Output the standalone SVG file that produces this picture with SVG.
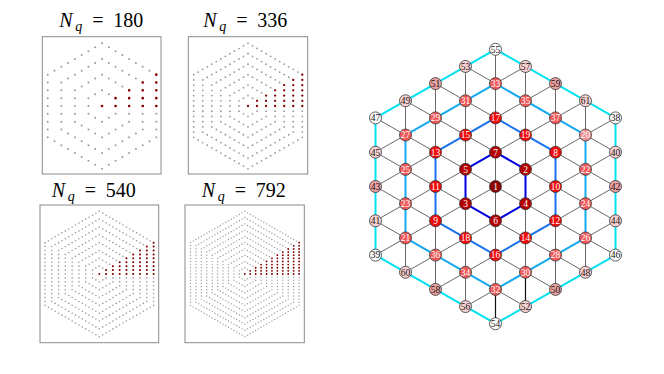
<svg xmlns="http://www.w3.org/2000/svg" width="664" height="374" viewBox="0 0 664 374">
<style>
.box{fill:#fff;stroke:#8a8a8a;stroke-width:1}
.ttl{font-family:"Liberation Serif",serif;font-size:20px;fill:#000}
.it{font-style:italic}
.g1{fill:none;stroke:#9a9a9a;stroke-linecap:round;stroke-width:2;stroke-dasharray:0 7.8375}
.g2{fill:none;stroke:#9a9a9a;stroke-linecap:round;stroke-width:1.8;stroke-dasharray:0 5.225}
.g3{fill:none;stroke:#9a9a9a;stroke-linecap:round;stroke-width:1.6;stroke-dasharray:0 3.91875}
.g4{fill:none;stroke:#9a9a9a;stroke-linecap:round;stroke-width:1.4;stroke-dasharray:0 3.135}
.r1{fill:none;stroke:#8b0000;stroke-linecap:round;stroke-width:2.6;stroke-dasharray:0 7.8375}
.r2{fill:none;stroke:#8b0000;stroke-linecap:round;stroke-width:2.3;stroke-dasharray:0 5.225}
.r3{fill:none;stroke:#8b0000;stroke-linecap:round;stroke-width:2.0;stroke-dasharray:0 3.91875}
.r4{fill:none;stroke:#8b0000;stroke-linecap:round;stroke-width:1.8;stroke-dasharray:0 3.135}
.lat{fill:none;stroke:#6a6a6a;stroke-width:1}
.blk{fill:none;stroke:#111;stroke-width:1.2}
.ring{fill:none;stroke-width:2;stroke-linejoin:round}
.node circle{stroke:#333;stroke-width:0.8}
.node text{font-family:"Liberation Serif",serif;font-size:9.5px;text-anchor:middle}
.c0 circle{fill:#8b0000}.c1 circle{fill:#b40000}.c2 circle{fill:#f00a0a}.c3 circle{fill:#f05858}.c3l circle{fill:#f29090}
.c4w circle{fill:#fff}.c4p circle{fill:#f8d2d2}.c4k circle{fill:#eca2a2}
.c0 text,.c1 text,.c2 text,.c3 text,.c3l text{fill:#fff}
.c4w text,.c4p text,.c4k text{fill:#111}
</style>

<g id="panel-180">
<rect class="box" x="42.3" y="36.7" width="118.7" height="137.3"/>
<text class="ttl" y="26.7"><tspan class="it" x="59.3">N</tspan><tspan class="it" x="75.3" dy="4" font-size="14">q</tspan><tspan x="92.3" dy="-4">=</tspan><tspan x="113.3">180</tspan></text>
<path class="g1" d="M102,90.325 l13.575,7.8375 v15.675 l-13.575,7.8375 l-13.575,-7.8375 v-15.675 z"/>
<path class="g1" d="M102,74.65 l27.15,15.675 v31.35 l-27.15,15.675 l-27.15,-15.675 v-31.35 z"/>
<path class="g1" d="M102,58.975 l40.725,23.5125 v47.025 l-40.725,23.5125 l-40.725,-23.5125 v-47.025 z"/>
<path class="g1" d="M102,43.3 l54.3,31.35 v62.7 l-54.3,31.35 l-54.3,-31.35 v-62.7 z"/>
<path class="r1" d="M102,106 v-0.3"/>
<path class="r1" d="M115.575,106 v-8.1375"/>
<path class="r1" d="M129.15,106 v-15.975"/>
<path class="r1" d="M142.725,106 v-23.8125"/>
<path class="r1" d="M156.3,106 v-31.65"/>
</g>

<g id="panel-336">
<rect class="box" x="188.3" y="36.7" width="119.4" height="137.3"/>
<text class="ttl" y="26.7"><tspan class="it" x="203.3">N</tspan><tspan class="it" x="219.3" dy="4" font-size="14">q</tspan><tspan x="236.3" dy="-4">=</tspan><tspan x="257.3">336</tspan></text>
<path class="g2" d="M248,95.55 l9.05,5.225 v10.45 l-9.05,5.225 l-9.05,-5.225 v-10.45 z"/>
<path class="g2" d="M248,85.1 l18.1,10.45 v20.9 l-18.1,10.45 l-18.1,-10.45 v-20.9 z"/>
<path class="g2" d="M248,74.65 l27.15,15.675 v31.35 l-27.15,15.675 l-27.15,-15.675 v-31.35 z"/>
<path class="g2" d="M248,64.2 l36.2,20.9 v41.8 l-36.2,20.9 l-36.2,-20.9 v-41.8 z"/>
<path class="g2" d="M248,53.75 l45.25,26.125 v52.25 l-45.25,26.125 l-45.25,-26.125 v-52.25 z"/>
<path class="g2" d="M248,43.3 l54.3,31.35 v62.7 l-54.3,31.35 l-54.3,-31.35 v-62.7 z"/>
<path class="r2" d="M248,106 v-0.3"/>
<path class="r2" d="M257.05,106 v-5.525"/>
<path class="r2" d="M266.1,106 v-10.75"/>
<path class="r2" d="M275.15,106 v-15.975"/>
<path class="r2" d="M284.2,106 v-21.2"/>
<path class="r2" d="M293.25,106 v-26.425"/>
<path class="r2" d="M302.3,106 v-31.65"/>
</g>

<g id="panel-540">
<rect class="box" x="40" y="205" width="118.7" height="137.7"/>
<text class="ttl" y="196.7"><tspan class="it" x="51.7">N</tspan><tspan class="it" x="67.7" dy="4" font-size="14">q</tspan><tspan x="84.7" dy="-4">=</tspan><tspan x="105.7">540</tspan></text>
<path class="g3" d="M99.3,266.1625 l6.7875,3.91875 v7.8375 l-6.7875,3.91875 l-6.7875,-3.91875 v-7.8375 z"/>
<path class="g3" d="M99.3,258.325 l13.575,7.8375 v15.675 l-13.575,7.8375 l-13.575,-7.8375 v-15.675 z"/>
<path class="g3" d="M99.3,250.4875 l20.3625,11.75625 v23.5125 l-20.3625,11.75625 l-20.3625,-11.75625 v-23.5125 z"/>
<path class="g3" d="M99.3,242.65 l27.15,15.675 v31.35 l-27.15,15.675 l-27.15,-15.675 v-31.35 z"/>
<path class="g3" d="M99.3,234.8125 l33.9375,19.59375 v39.1875 l-33.9375,19.59375 l-33.9375,-19.59375 v-39.1875 z"/>
<path class="g3" d="M99.3,226.975 l40.725,23.5125 v47.025 l-40.725,23.5125 l-40.725,-23.5125 v-47.025 z"/>
<path class="g3" d="M99.3,219.1375 l47.5125,27.43125 v54.8625 l-47.5125,27.43125 l-47.5125,-27.43125 v-54.8625 z"/>
<path class="g3" d="M99.3,211.3 l54.3,31.35 v62.7 l-54.3,31.35 l-54.3,-31.35 v-62.7 z"/>
<path class="r3" d="M99.3,274 v-0.3"/>
<path class="r3" d="M106.0875,274 v-4.21875"/>
<path class="r3" d="M112.875,274 v-8.1375"/>
<path class="r3" d="M119.6625,274 v-12.05625"/>
<path class="r3" d="M126.45,274 v-15.975"/>
<path class="r3" d="M133.2375,274 v-19.89375"/>
<path class="r3" d="M140.025,274 v-23.8125"/>
<path class="r3" d="M146.8125,274 v-27.73125"/>
<path class="r3" d="M153.6,274 v-31.65"/>
</g>

<g id="panel-792">
<rect class="box" x="185" y="205" width="119.3" height="137.7"/>
<text class="ttl" y="196.7"><tspan class="it" x="201.7">N</tspan><tspan class="it" x="217.7" dy="4" font-size="14">q</tspan><tspan x="234.7" dy="-4">=</tspan><tspan x="255.7">792</tspan></text>
<path class="g4" d="M244.8,267.73 l5.43,3.135 v6.27 l-5.43,3.135 l-5.43,-3.135 v-6.27 z"/>
<path class="g4" d="M244.8,261.46 l10.86,6.27 v12.54 l-10.86,6.27 l-10.86,-6.27 v-12.54 z"/>
<path class="g4" d="M244.8,255.19 l16.29,9.405 v18.81 l-16.29,9.405 l-16.29,-9.405 v-18.81 z"/>
<path class="g4" d="M244.8,248.92 l21.72,12.54 v25.08 l-21.72,12.54 l-21.72,-12.54 v-25.08 z"/>
<path class="g4" d="M244.8,242.65 l27.15,15.675 v31.35 l-27.15,15.675 l-27.15,-15.675 v-31.35 z"/>
<path class="g4" d="M244.8,236.38 l32.58,18.81 v37.62 l-32.58,18.81 l-32.58,-18.81 v-37.62 z"/>
<path class="g4" d="M244.8,230.11 l38.01,21.945 v43.89 l-38.01,21.945 l-38.01,-21.945 v-43.89 z"/>
<path class="g4" d="M244.8,223.84 l43.44,25.08 v50.16 l-43.44,25.08 l-43.44,-25.08 v-50.16 z"/>
<path class="g4" d="M244.8,217.57 l48.87,28.215 v56.43 l-48.87,28.215 l-48.87,-28.215 v-56.43 z"/>
<path class="g4" d="M244.8,211.3 l54.3,31.35 v62.7 l-54.3,31.35 l-54.3,-31.35 v-62.7 z"/>
<path class="r4" d="M244.8,274 v-0.3"/>
<path class="r4" d="M250.23,274 v-3.435"/>
<path class="r4" d="M255.66,274 v-6.57"/>
<path class="r4" d="M261.09,274 v-9.705"/>
<path class="r4" d="M266.52,274 v-12.84"/>
<path class="r4" d="M271.95,274 v-15.975"/>
<path class="r4" d="M277.38,274 v-19.11"/>
<path class="r4" d="M282.81,274 v-22.245"/>
<path class="r4" d="M288.24,274 v-25.38"/>
<path class="r4" d="M293.67,274 v-28.515"/>
<path class="r4" d="M299.1,274 v-31.65"/>
</g>

<g id="connectors">
<path class="lat" d="M375.5,117.9V255.1 M405.5,100.75V272.25 M435.5,83.6V289.4 M465.5,66.45V306.55 M495.5,49.3V323.7 M525.5,66.45V306.55 M555.5,83.6V289.4 M585.5,100.75V272.25 M615.5,117.9V255.1
M495.5,49.3L615.5,117.9 M465.5,66.45L615.5,152.2 M435.5,83.6L615.5,186.5 M405.5,100.75L615.5,220.8 M375.5,117.9L615.5,255.1 M375.5,152.2L585.5,272.25 M375.5,186.5L555.5,289.4 M375.5,220.8L525.5,306.55 M375.5,255.1L495.5,323.7
M495.5,49.3L375.5,117.9 M525.5,66.45L375.5,152.2 M555.5,83.6L375.5,186.5 M585.5,100.75L375.5,220.8 M615.5,117.9L375.5,255.1 M615.5,152.2L405.5,272.25 M615.5,186.5L435.5,289.4 M615.5,220.8L465.5,306.55 M615.5,255.1L495.5,323.7"/>
<path class="blk" d="M525.5,272.25V306.55 M495.5,289.4V323.7"/>
<path class="ring" stroke="#00e3f3" d="M495.5,49.3 L615.5,117.9 L615.5,255.1 L495.5,323.7 L375.5,255.1 L375.5,117.9 Z"/>
<path class="ring" stroke="#16aaf0" d="M495.5,83.6 L585.5,135.05 L585.5,237.95 L495.5,289.4 L405.5,237.95 L405.5,135.05 Z"/>
<path class="ring" stroke="#1a72ee" d="M495.5,117.9 L555.5,152.2 L555.5,220.8 L495.5,255.1 L435.5,220.8 L435.5,152.2 Z"/>
<path class="ring" stroke="#0000dc" d="M495.5,152.2 L525.5,169.35 L525.5,203.65 L495.5,220.8 L465.5,203.65 L465.5,169.35 Z"/>
</g>

<g id="n1" class="node c0"><circle cx="495.5" cy="186.5" r="6"/><text x="495.5" y="189.8">1</text></g>
<g id="n2" class="node c1"><circle cx="525.5" cy="169.35" r="6"/><text x="525.5" y="172.65">2</text></g>
<g id="n3" class="node c1"><circle cx="465.5" cy="203.65" r="6"/><text x="465.5" y="206.95">3</text></g>
<g id="n4" class="node c1"><circle cx="525.5" cy="203.65" r="6"/><text x="525.5" y="206.95">4</text></g>
<g id="n5" class="node c1"><circle cx="465.5" cy="169.35" r="6"/><text x="465.5" y="172.65">5</text></g>
<g id="n6" class="node c1"><circle cx="495.5" cy="220.8" r="6"/><text x="495.5" y="224.1">6</text></g>
<g id="n7" class="node c1"><circle cx="495.5" cy="152.2" r="6"/><text x="495.5" y="155.5">7</text></g>
<g id="n8" class="node c2"><circle cx="555.5" cy="152.2" r="6"/><text x="555.5" y="155.5">8</text></g>
<g id="n9" class="node c2"><circle cx="435.5" cy="220.8" r="6"/><text x="435.5" y="224.1">9</text></g>
<g id="n10" class="node c2"><circle cx="555.5" cy="186.5" r="6"/><text x="555.5" y="189.8">10</text></g>
<g id="n11" class="node c2"><circle cx="435.5" cy="186.5" r="6"/><text x="435.5" y="189.8">11</text></g>
<g id="n12" class="node c2"><circle cx="555.5" cy="220.8" r="6"/><text x="555.5" y="224.1">12</text></g>
<g id="n13" class="node c2"><circle cx="435.5" cy="152.2" r="6"/><text x="435.5" y="155.5">13</text></g>
<g id="n14" class="node c2"><circle cx="525.5" cy="237.95" r="6"/><text x="525.5" y="241.25">14</text></g>
<g id="n15" class="node c2"><circle cx="465.5" cy="135.05" r="6"/><text x="465.5" y="138.35">15</text></g>
<g id="n16" class="node c2"><circle cx="495.5" cy="255.1" r="6"/><text x="495.5" y="258.4">16</text></g>
<g id="n17" class="node c2"><circle cx="495.5" cy="117.9" r="6"/><text x="495.5" y="121.2">17</text></g>
<g id="n18" class="node c2"><circle cx="465.5" cy="237.95" r="6"/><text x="465.5" y="241.25">18</text></g>
<g id="n19" class="node c2"><circle cx="525.5" cy="135.05" r="6"/><text x="525.5" y="138.35">19</text></g>
<g id="n20" class="node c3l"><circle cx="585.5" cy="135.05" r="6"/><text x="585.5" y="138.35">20</text></g>
<g id="n21" class="node c3"><circle cx="405.5" cy="237.95" r="6"/><text x="405.5" y="241.25">21</text></g>
<g id="n22" class="node c3"><circle cx="585.5" cy="169.35" r="6"/><text x="585.5" y="172.65">22</text></g>
<g id="n23" class="node c3"><circle cx="405.5" cy="203.65" r="6"/><text x="405.5" y="206.95">23</text></g>
<g id="n24" class="node c3"><circle cx="585.5" cy="203.65" r="6"/><text x="585.5" y="206.95">24</text></g>
<g id="n25" class="node c3"><circle cx="405.5" cy="169.35" r="6"/><text x="405.5" y="172.65">25</text></g>
<g id="n26" class="node c3"><circle cx="585.5" cy="237.95" r="6"/><text x="585.5" y="241.25">26</text></g>
<g id="n27" class="node c3"><circle cx="405.5" cy="135.05" r="6"/><text x="405.5" y="138.35">27</text></g>
<g id="n28" class="node c3"><circle cx="555.5" cy="255.1" r="6"/><text x="555.5" y="258.4">28</text></g>
<g id="n29" class="node c3"><circle cx="435.5" cy="117.9" r="6"/><text x="435.5" y="121.2">29</text></g>
<g id="n30" class="node c3"><circle cx="525.5" cy="272.25" r="6"/><text x="525.5" y="275.55">30</text></g>
<g id="n31" class="node c3"><circle cx="465.5" cy="100.75" r="6"/><text x="465.5" y="104.05">31</text></g>
<g id="n32" class="node c3"><circle cx="495.5" cy="289.4" r="6"/><text x="495.5" y="292.7">32</text></g>
<g id="n33" class="node c3"><circle cx="495.5" cy="83.6" r="6"/><text x="495.5" y="86.9">33</text></g>
<g id="n34" class="node c3"><circle cx="465.5" cy="272.25" r="6"/><text x="465.5" y="275.55">34</text></g>
<g id="n35" class="node c3"><circle cx="525.5" cy="100.75" r="6"/><text x="525.5" y="104.05">35</text></g>
<g id="n36" class="node c3"><circle cx="435.5" cy="255.1" r="6"/><text x="435.5" y="258.4">36</text></g>
<g id="n37" class="node c3"><circle cx="555.5" cy="117.9" r="6"/><text x="555.5" y="121.2">37</text></g>
<g id="n38" class="node c4w"><circle cx="615.5" cy="117.9" r="6"/><text x="615.5" y="121.2">38</text></g>
<g id="n39" class="node c4w"><circle cx="375.5" cy="255.1" r="6"/><text x="375.5" y="258.4">39</text></g>
<g id="n40" class="node c4p"><circle cx="615.5" cy="152.2" r="6"/><text x="615.5" y="155.5">40</text></g>
<g id="n41" class="node c4p"><circle cx="375.5" cy="220.8" r="6"/><text x="375.5" y="224.1">41</text></g>
<g id="n42" class="node c4k"><circle cx="615.5" cy="186.5" r="6"/><text x="615.5" y="189.8">42</text></g>
<g id="n43" class="node c4k"><circle cx="375.5" cy="186.5" r="6"/><text x="375.5" y="189.8">43</text></g>
<g id="n44" class="node c4p"><circle cx="615.5" cy="220.8" r="6"/><text x="615.5" y="224.1">44</text></g>
<g id="n45" class="node c4p"><circle cx="375.5" cy="152.2" r="6"/><text x="375.5" y="155.5">45</text></g>
<g id="n46" class="node c4w"><circle cx="615.5" cy="255.1" r="6"/><text x="615.5" y="258.4">46</text></g>
<g id="n47" class="node c4w"><circle cx="375.5" cy="117.9" r="6"/><text x="375.5" y="121.2">47</text></g>
<g id="n48" class="node c4p"><circle cx="585.5" cy="272.25" r="6"/><text x="585.5" y="275.55">48</text></g>
<g id="n49" class="node c4p"><circle cx="405.5" cy="100.75" r="6"/><text x="405.5" y="104.05">49</text></g>
<g id="n50" class="node c4k"><circle cx="555.5" cy="289.4" r="6"/><text x="555.5" y="292.7">50</text></g>
<g id="n51" class="node c4k"><circle cx="435.5" cy="83.6" r="6"/><text x="435.5" y="86.9">51</text></g>
<g id="n52" class="node c4p"><circle cx="525.5" cy="306.55" r="6"/><text x="525.5" y="309.85">52</text></g>
<g id="n53" class="node c4p"><circle cx="465.5" cy="66.45" r="6"/><text x="465.5" y="69.75">53</text></g>
<g id="n54" class="node c4w"><circle cx="495.5" cy="323.7" r="6"/><text x="495.5" y="327">54</text></g>
<g id="n55" class="node c4w"><circle cx="495.5" cy="49.3" r="6"/><text x="495.5" y="52.6">55</text></g>
<g id="n56" class="node c4p"><circle cx="465.5" cy="306.55" r="6"/><text x="465.5" y="309.85">56</text></g>
<g id="n57" class="node c4p"><circle cx="525.5" cy="66.45" r="6"/><text x="525.5" y="69.75">57</text></g>
<g id="n58" class="node c4k"><circle cx="435.5" cy="289.4" r="6"/><text x="435.5" y="292.7">58</text></g>
<g id="n59" class="node c4k"><circle cx="555.5" cy="83.6" r="6"/><text x="555.5" y="86.9">59</text></g>
<g id="n60" class="node c4p"><circle cx="405.5" cy="272.25" r="6"/><text x="405.5" y="275.55">60</text></g>
<g id="n61" class="node c4p"><circle cx="585.5" cy="100.75" r="6"/><text x="585.5" y="104.05">61</text></g>
</svg>
